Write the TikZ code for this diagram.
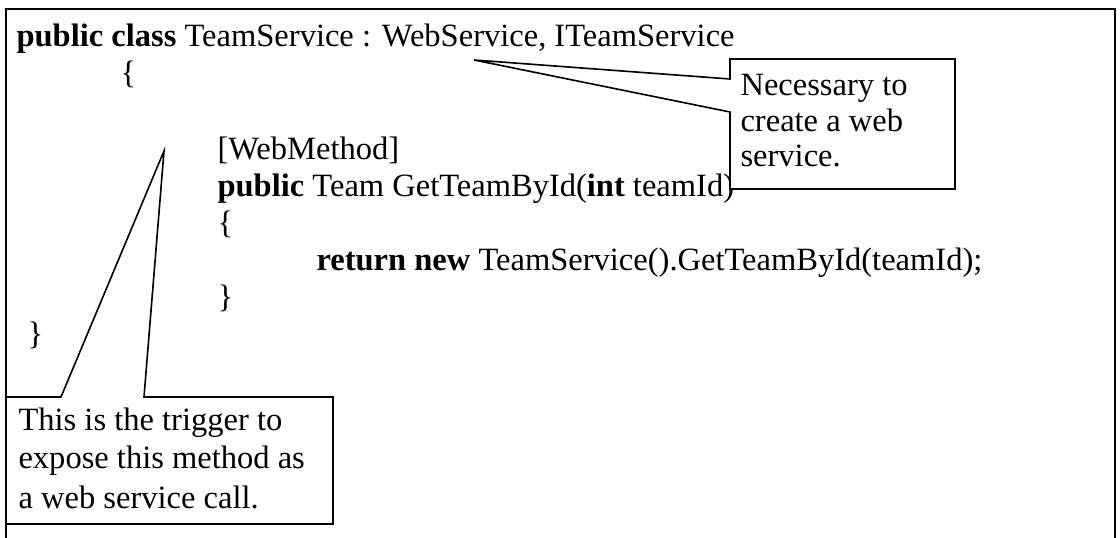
\documentclass[tikz,border=0pt]{standalone}
\usepackage{fontspec}
\setmainfont{Liberation Serif}
\begin{document}
\begin{tikzpicture}[x=0.369pt,y=-0.369pt,
  code/.style={anchor=base west, inner sep=0pt, font=\fontsize{12}{13.8}\selectfont},
  outline/.style={draw=black, line width=0.6pt, line join=miter, fill=white}]
\useasboundingbox (0,0) rectangle (1120,538);
\fill[white] (0,0) rectangle (1120,538);
\begin{scope}
\clip (0,0) rectangle (1120,538);
% page frame (runs off the bottom)
\draw[line width=0.7pt] (6,560) -- (6,9) -- (1115,9) -- (1115,560);
\end{scope}

% source listing
\node[code] (l1) at (16,47) {\textbf{public class} TeamService : WebService, ITeamService};
\node[code] (l2) at (120,84) {\{};
\node[code] (l3) at (217,160) {[WebMethod]};
\node[code] (l4) at (217,197) {\textbf{public} Team GetTeamById(\textbf{int} teamId)};
\node[code] (l5) at (217,234) {\{};
\node[code] (l6) at (316,271) {\textbf{return new} TeamService().GetTeamById(teamId);};
\node[code] (l7) at (217,308) {\}};
\node[code] (l8) at (27,345) {\}};

% callout on the base classes
\coordinate (tipA) at (474,60);
\draw[outline] (730,79) -- (tipA) -- (730,112) -- (730,189) -- (955,189)
  -- (955,59) -- (730,59) -- cycle;
\node[code] (n1a) at (740,96) {Necessary to};
\node[code] (n1b) at (740,132) {create a web};
\node[code] (n1c) at (740,167) {service.};

% callout on the attribute
\coordinate (tipB) at (164,151);
\draw[outline] (61,397) -- (tipB) -- (144,397) -- (333,397) -- (333,524)
  -- (6,524) -- (6,397) -- cycle;
\node[code] (n2a) at (18,431) {This is the trigger to};
\node[code] (n2b) at (18,469) {expose this method as};
\node[code] (n2c) at (18,508) {a web service call.};
\end{tikzpicture}
\end{document}
